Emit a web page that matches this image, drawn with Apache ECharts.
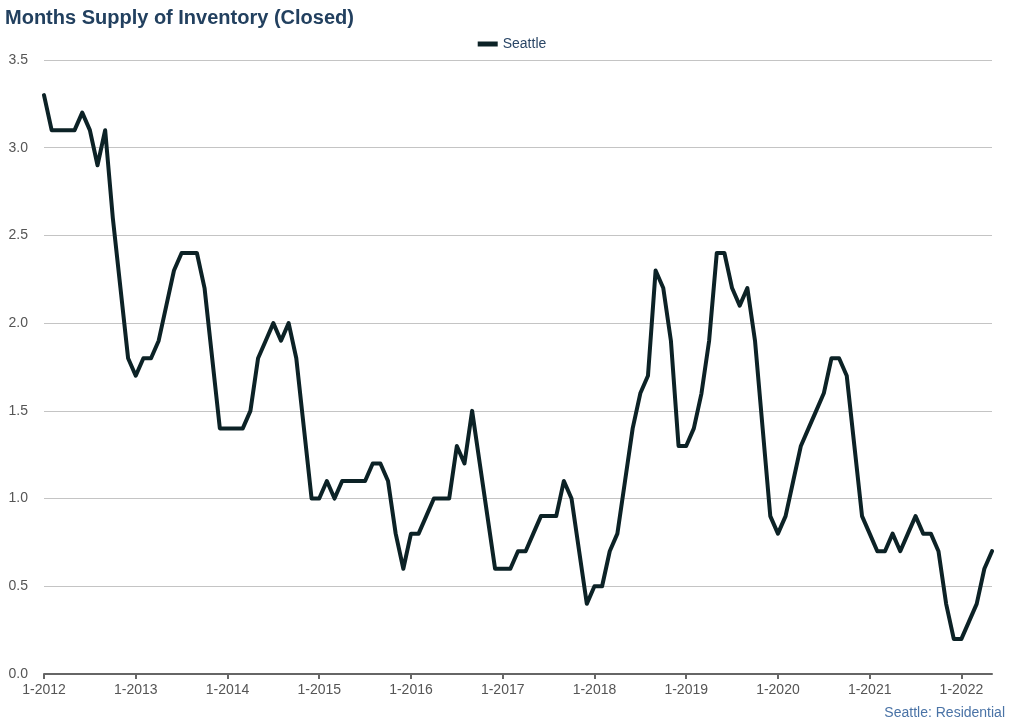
<!DOCTYPE html>
<html>
<head>
<meta charset="utf-8">
<script src="https://cdn.jsdelivr.net/npm/echarts@6/dist/echarts.min.js"></script>
<style>
html,body{margin:0;padding:0;background:#fff;}
#chart{width:1024px;height:725px;}
</style>
</head>
<body>
<div id="chart"></div>
<script>
// Months: Jan 2012 .. May 2022
const startYear = 2012;
const monthCount = 125;
const categories = [];
for (let i = 0; i < monthCount; i++) {
  categories.push(((i % 12) + 1) + '-' + (startYear + Math.floor(i / 12)));
}
const seriesName = 'Seattle';
const seattle = [
  3.3, 3.1, 3.1, 3.1, 3.1, 3.2, 3.1, 2.9, 3.1, 2.6, 2.2, 1.8,
  1.7, 1.8, 1.8, 1.9, 2.1, 2.3, 2.4, 2.4, 2.4, 2.2, 1.8, 1.4,
  1.4, 1.4, 1.4, 1.5, 1.8, 1.9, 2.0, 1.9, 2.0, 1.8, 1.4, 1.0,
  1.0, 1.1, 1.0, 1.1, 1.1, 1.1, 1.1, 1.2, 1.2, 1.1, 0.8, 0.6,
  0.8, 0.8, 0.9, 1.0, 1.0, 1.0, 1.3, 1.2, 1.5, 1.2, 0.9, 0.6,
  0.6, 0.6, 0.7, 0.7, 0.8, 0.9, 0.9, 0.9, 1.1, 1.0, 0.7, 0.4,
  0.5, 0.5, 0.7, 0.8, 1.1, 1.4, 1.6, 1.7, 2.3, 2.2, 1.9, 1.3,
  1.3, 1.4, 1.6, 1.9, 2.4, 2.4, 2.2, 2.1, 2.2, 1.9, 1.4, 0.9,
  0.8, 0.9, 1.1, 1.3, 1.4, 1.5, 1.6, 1.8, 1.8, 1.7, 1.3, 0.9,
  0.8, 0.7, 0.7, 0.8, 0.7, 0.8, 0.9, 0.8, 0.8, 0.7, 0.4, 0.2,
  0.2, 0.3, 0.4, 0.6, 0.7
];
const titleText = 'Months Supply of Inventory (Closed)';
const footerText = 'Seattle: Residential';

const chart = echarts.init(document.getElementById('chart'));
const font = '"Liberation Sans", Arial, Helvetica, sans-serif';
chart.setOption({
  animation: false,
  backgroundColor: '#ffffff',
  textStyle: { fontFamily: font },
  title: [
    { text: titleText, left: 0, top: 3,
      textStyle: { fontSize: 20, fontWeight: 'bold', color: '#22405f', fontFamily: font } },
    { text: footerText, right: 14, bottom: 0,
      textStyle: { fontSize: 14, fontWeight: 'normal', color: '#4a73a6', fontFamily: font } }
  ],
  legend: {
    data: [seriesName],
    top: 32, left: 'center',
    itemWidth: 20, itemHeight: 5, itemGap: 8,
    icon: 'rect',
    textStyle: { fontSize: 14, color: '#2a4666', fontFamily: font }
  },
  grid: { left: 44, right: 32, top: 60, bottom: 51, containLabel: false },
  xAxis: {
    type: 'category',
    data: categories,
    boundaryGap: false,
    axisLine: { lineStyle: { color: '#666666', width: 2 } },
    axisTick: { show: true, interval: 11, length: 5, lineStyle: { color: '#666666', width: 2 } },
    axisLabel: { interval: 11, color: '#555555', fontSize: 14, margin: 9, fontFamily: font },
    splitLine: { show: false }
  },
  yAxis: {
    type: 'value',
    min: 0, max: 3.5, interval: 0.5,
    axisLine: { show: false },
    axisTick: { show: false },
    axisLabel: { color: '#555555', fontSize: 14, margin: 16, fontFamily: font,
      formatter: v => v.toFixed(1) },
    splitLine: { lineStyle: { color: '#c4c4c4', width: 1 } }
  },
  series: [{
    name: seriesName,
    type: 'line',
    data: seattle,
    showSymbol: false,
    symbol: 'none',
    lineStyle: { color: '#0c2226', width: 4, join: 'round', cap: 'round' },
    itemStyle: { color: '#0c2226' }
  }]
});
</script>
</body>
</html>
